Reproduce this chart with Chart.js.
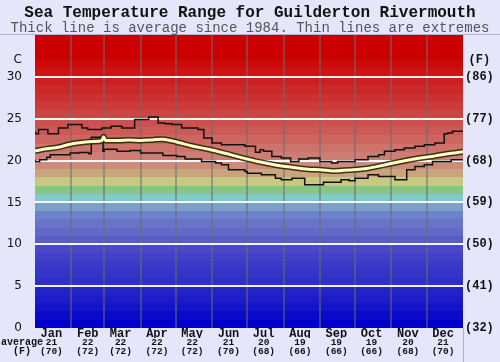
<!DOCTYPE html>
<html>
<head>
<meta charset="utf-8">
<script src="https://cdn.jsdelivr.net/npm/chart.js@4/dist/chart.umd.min.js"></script>
<style>
  html, body { margin: 0; padding: 0; background: #e6e6fa; }
</style>
</head>
<body>
<canvas id="myChart" width="500" height="362"></canvas>
<script>
// month labels along the bottom
const MONTHS = ['Jan', 'Feb', 'Mar', 'Apr', 'May', 'Jun', 'Jul', 'Aug', 'Sep', 'Oct', 'Nov', 'Dec'];
const MONTH_STARTS = [0, 31, 59, 90, 120, 151, 181, 212, 243, 273, 304, 334];
const AVG_C = [21, 22, 22, 22, 22, 21, 20, 19, 19, 19, 20, 21];
const AVG_F = [70, 72, 72, 72, 72, 70, 68, 66, 66, 66, 68, 70];

// axis ticks
const C_TICKS = [0, 5, 10, 15, 20, 25, 30];
const F_TICKS = ['(32)', '(41)', '(50)', '(59)', '(68)', '(77)', '(86)'];
const UNIT_LABEL_AT = 32;

// extremes (stepped), day of year -> degC
const MAX_DAYS = [0, 3, 11, 20, 28, 40, 45, 57, 65, 74, 85, 97, 105, 111, 117, 125, 139, 144, 151, 159,
  179, 188, 192, 195, 202, 210, 218, 225, 233, 243, 253, 258, 273, 284, 293, 298, 307, 315, 324, 332,
  341, 349, 352, 356, 359, 365];
const MAX_VALUES = [23.5, 23.2, 23.7, 23.2, 23.9, 24.3, 23.9, 23.7, 23.9, 24.1, 23.9, 24.9, 25.2, 24.5, 24.4, 24.3, 23.9, 23.7, 22.7, 22.1,
  21.9, 21.7, 21.0, 21.3, 21.1, 20.5, 20.3, 19.9, 20.2, 20.3, 19.9, 19.7, 19.9, 20.1, 20.5, 20.7, 21.1, 21.3, 21.5, 21.7,
  21.9, 22.1, 23.2, 23.3, 23.5, 23.5];

const MIN_DAYS = [0, 4, 10, 13, 30, 38, 46, 48, 58, 59, 70, 81, 90, 109, 121, 128, 142, 154, 159, 165,
  179, 181, 193, 205, 210, 219, 230, 246, 261, 268, 273, 284, 293, 307, 317, 324, 332, 339, 355, 361, 365];
const MIN_VALUES = [20.1, 19.9, 20.1, 20.4, 20.7, 20.9, 20.95, 20.8, 22.8, 21.1, 21.35, 21.1, 21.2, 20.9, 20.6, 20.5, 20.2, 19.9, 19.7, 19.5,
  18.9, 18.7, 18.5, 18.3, 17.9, 17.7, 17.9, 17.1, 17.4, 17.7, 17.6, 17.9, 18.3, 18.1, 17.7, 18.9, 19.3, 19.5, 19.9, 20.1, 20.1];

// average since 1984
const AVG_DAYS = [0, 10, 20, 30, 40, 50, 57, 58.5, 60, 71, 80, 90, 100, 108, 117, 124, 134, 148, 162, 176,
  190, 205, 219, 233, 243, 255, 270, 284, 298, 312, 327, 341, 355, 365];
const AVG_VALUES = [21.16, 21.4, 21.6, 21.95, 22.15, 22.27, 22.39, 22.86, 22.4, 22.4, 22.47, 22.4, 22.47, 22.55, 22.35, 22.1, 21.75, 21.35, 20.87, 20.35,
  19.88, 19.48, 19.2, 18.96, 18.9, 18.76, 18.88, 19.08, 19.48, 19.88, 20.28, 20.55, 20.87, 21.07];

// one colour per degree, 0..35
const BAND_COLORS = [
  'rgb(0,0,204)', 'rgb(10,10,200)', 'rgb(20,20,200)', 'rgb(28,28,200)', 'rgb(35,35,200)',
  'rgb(46,46,200)', 'rgb(52,52,198)', 'rgb(58,58,200)', 'rgb(64,64,200)', 'rgb(72,72,200)',
  'rgb(88,92,200)', 'rgb(98,106,200)', 'rgb(104,116,200)', 'rgb(110,130,204)', 'rgb(125,160,200)',
  'rgb(130,200,204)', 'rgb(130,200,130)', 'rgb(200,200,130)', 'rgb(200,165,125)', 'rgb(205,140,120)',
  'rgb(205,125,115)', 'rgb(205,115,105)', 'rgb(205,102,96)', 'rgb(204,90,86)', 'rgb(204,80,78)',
  'rgb(204,68,68)', 'rgb(204,58,58)', 'rgb(204,48,48)', 'rgb(204,40,40)', 'rgb(204,32,32)',
  'rgb(204,20,20)', 'rgb(204,10,10)', 'rgb(204,0,0)', 'rgb(204,0,0)', 'rgb(204,0,0)',
];

const toPoints = (days, values) => days.map((d, i) => ({ x: d, y: values[i] }));
const MONO = "'Liberation Mono', 'DejaVu Sans Mono', monospace";

const backdrop = {
  id: 'backdrop',
  beforeDraw(chart) {
    const { ctx, chartArea: { left, right, top, bottom }, scales: { x, y } } = chart;
    ctx.save();
    BAND_COLORS.forEach((color, deg) => {
      const y1 = Math.round(y.getPixelForValue(deg + 1));
      const y0 = Math.round(y.getPixelForValue(deg));
      ctx.fillStyle = color;
      ctx.fillRect(left, y1, right - left, y0 - y1);
    });

    ctx.strokeStyle = 'rgba(110,110,110,0.7)';
    ctx.lineWidth = 1.5;
    MONTH_STARTS.slice(1).forEach(day => {
      const px = Math.round(x.getPixelForValue(day));
      ctx.beginPath();
      ctx.moveTo(px, top);
      ctx.lineTo(px, bottom);
      ctx.stroke();
    });

    // thin frame lines of the original image
    ctx.strokeStyle = 'rgba(170,170,195,0.9)';
    ctx.lineWidth = 1;
    ctx.beginPath();
    ctx.moveTo(0, top - 0.5);
    ctx.lineTo(chart.width, top - 0.5);
    ctx.moveTo(right + 0.5, bottom);
    ctx.lineTo(right + 0.5, chart.height);
    ctx.stroke();
    ctx.restore();
  },
  afterDraw(chart) {
    const { ctx, scales: { xn } } = chart;
    ctx.save();
    ctx.fillStyle = '#111';
    ctx.font = 'bold 10px ' + MONO;
    ctx.textAlign = 'center';
    ctx.textBaseline = 'middle';
    ctx.fillText('average', 22, xn.top + 4.5);
    ctx.fillText('(F)', 22, xn.top + 13.5);
    ctx.restore();
  },
};

new Chart(document.getElementById('myChart'), {
  type: 'line',
  data: {
    datasets: [
      {
        data: toPoints(AVG_DAYS, AVG_VALUES),
        borderColor: '#ffffc4',
        borderWidth: 3,
        cubicInterpolationMode: 'monotone',
      },
      {
        data: toPoints(AVG_DAYS, AVG_VALUES),
        borderColor: 'rgba(45,35,15,0.9)',
        borderWidth: 6,
        cubicInterpolationMode: 'monotone',
      },
      {
        data: toPoints(MAX_DAYS, MAX_VALUES),
        borderColor: '#111',
        borderWidth: 1.5,
        stepped: 'after',
      },
      {
        data: toPoints(MIN_DAYS, MIN_VALUES),
        borderColor: '#111',
        borderWidth: 1.5,
        stepped: 'after',
      },
    ],
  },
  options: {
    responsive: false,
    animation: false,
    events: [],
    elements: { point: { radius: 0 } },
    layout: { padding: 0 },
    plugins: {
      legend: { display: false },
      tooltip: { enabled: false },
      title: {
        display: true,
        text: 'Sea Temperature Range for Guilderton Rivermouth',
        color: '#111',
        font: { family: MONO, size: 16, weight: 'bold', lineHeight: 1 },
        padding: { top: 5, bottom: 0 },
      },
      subtitle: {
        display: true,
        text: 'Thick line is average since 1984. Thin lines are extremes',
        color: '#555',
        font: { family: MONO, size: 14, lineHeight: 1 },
        padding: { top: 0, bottom: 0 },
      },
    },
    scales: {
      x: {
        type: 'linear',
        min: 0,
        max: 365,
        position: 'bottom',
        weight: 0,
        afterBuildTicks: scale => {
          scale.ticks = MONTH_STARTS.map(d => ({ value: d + 14 }));
        },
        afterFit: scale => { scale.height = 10; },
        ticks: {
          autoSkip: false,
          maxRotation: 0,
          padding: 0,
          color: '#111',
          font: { family: MONO, size: 12, weight: 'bold', lineHeight: 1 },
          callback: (value, i) => MONTHS[i],
        },
        grid: { display: false, drawTicks: false },
        border: { display: false },
      },
      xn: {
        type: 'linear',
        min: 0,
        max: 365,
        position: 'bottom',
        weight: 1,
        afterBuildTicks: scale => {
          scale.ticks = MONTH_STARTS.map(d => ({ value: d + 14 }));
        },
        afterFit: scale => { scale.height = 24; },
        ticks: {
          autoSkip: false,
          maxRotation: 0,
          padding: 0,
          color: '#111',
          font: { family: MONO, size: 9.5, weight: 'bold', lineHeight: 0.95 },
          callback: (value, i) => [String(AVG_C[i]), '(' + AVG_F[i] + ')'],
        },
        grid: { display: false, drawTicks: false },
        border: { display: false },
      },
      y: {
        min: 0,
        max: 35,
        position: 'left',
        afterBuildTicks: scale => {
          scale.ticks = [...C_TICKS, UNIT_LABEL_AT].map(v => ({ value: v }));
        },
        afterFit: scale => { scale.width = 35; },
        ticks: {
          padding: 13,
          color: '#111',
          font: { family: "'DejaVu Sans', Verdana, sans-serif", size: 12 },
          callback: value => (value === UNIT_LABEL_AT ? 'C' : value),
        },
        grid: {
          drawTicks: false,
          lineWidth: 2,
          color: ctx => (ctx.tick && ctx.tick.value > 0 && ctx.tick.value <= 30 ? 'rgba(255,255,255,0.95)' : 'transparent'),
        },
        border: { display: false },
      },
      y2: {
        min: 0,
        max: 35,
        position: 'right',
        afterBuildTicks: scale => {
          scale.ticks = [...C_TICKS, UNIT_LABEL_AT].map(v => ({ value: v }));
        },
        afterFit: scale => { scale.width = 37; },
        ticks: {
          padding: 2,
          crossAlign: 'center',
          color: '#111',
          font: { family: MONO, size: 12, weight: 'bold' },
          callback: (value, i) => (value === UNIT_LABEL_AT ? '(F)' : F_TICKS[i]),
        },
        grid: { display: false, drawTicks: false },
        border: { display: false },
      },
    },
  },
  plugins: [backdrop],
});
</script>
</body>
</html>
